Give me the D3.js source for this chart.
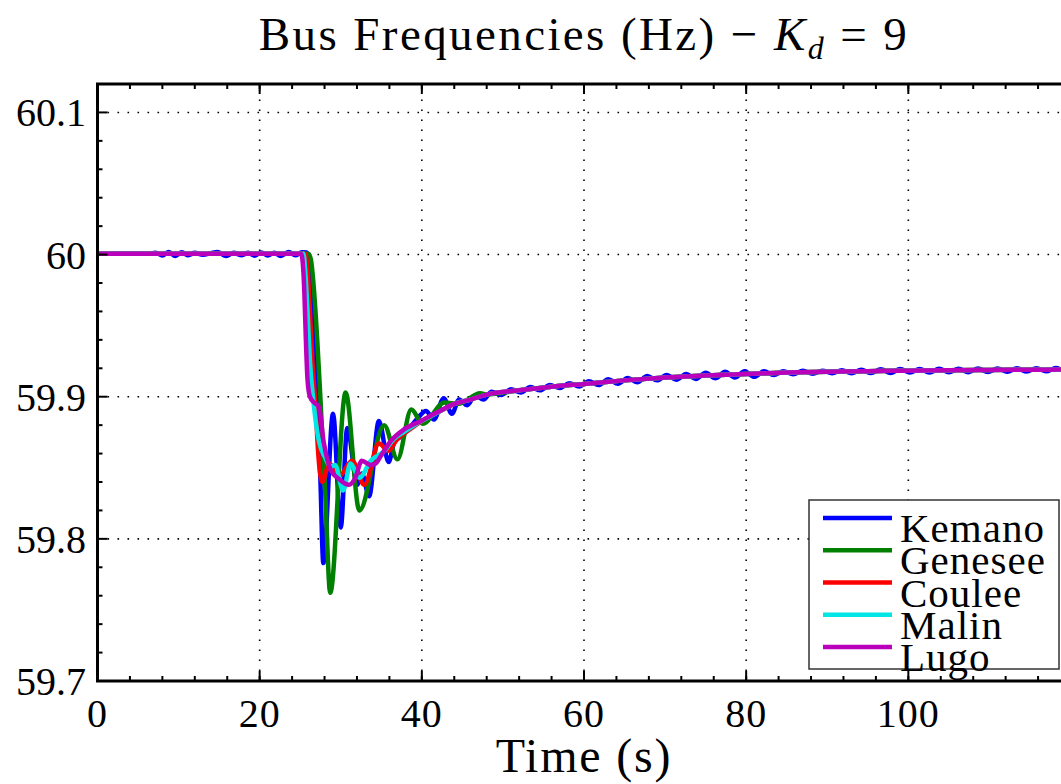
<!DOCTYPE html>
<html>
<head>
<meta charset="utf-8">
<script src="https://cdn.jsdelivr.net/npm/d3@7"></script>
<style>
  body { margin: 0; background: #fff; overflow: hidden; }
  text { font-family: "Liberation Serif", "Times New Roman", serif; fill: #000; }
</style>
</head>
<body>
<svg id="chart" width="1061" height="784"></svg>
<script>
// axis ticks
const xTicks = [0, 20, 40, 60, 80, 100, 120];
const xTickLabels = ["0", "20", "40", "60", "80", "100"];
const xMinorTicks = d3.range(0, 121, 4);
const yTicks = [59.7, 59.8, 59.9, 60, 60.1];
const yTickLabels = ["59.7", "59.8", "59.9", "60", "60.1"];
const yMinorTicks = [59.72, 59.74, 59.76, 59.78, 59.82, 59.84, 59.86, 59.88, 59.92, 59.94, 59.96, 59.98, 60.02, 60.04, 60.06, 60.08, 60.12];

const seriesNames = ["Kemano", "Genesee", "Coulee", "Malin", "Lugo"];
const seriesColors = ["#0000ff", "#008000", "#ff0000", "#00e6e6", "#bb00bb"];

// common slow recovery (s, Hz)
const settleTail = [[48, 59.9015], [52, 59.9045], [56, 59.907], [60, 59.909], [65, 59.9115], [70, 59.9135],
  [75, 59.915], [80, 59.916], [85, 59.917], [90, 59.9175], [95, 59.918], [100, 59.9183], [105, 59.9186],
  [110, 59.9188], [115, 59.919], [120, 59.9192], [121, 59.9193]];

// Kemano: ripples before the event, deep swing, ripples after
const kemano = [[0, 60.0005], [6, 60.0005], [7.2, 60.0012], [8.0, 59.9993], [8.8, 60.0018], [9.6, 59.999],
  [10.4, 60.0016], [11.2, 59.9995], [12.0, 60.0012], [13, 59.9998], [14, 60.001], [14.8, 60.0018],
  [15.8, 59.999], [16.8, 60.0012], [17.8, 59.9995], [18.6, 60.0012], [19.4, 59.9992], [20.2, 60.0015],
  [21.0, 59.9993], [21.8, 60.0012], [22.6, 59.999], [23.6, 60.0018], [24.4, 59.9995], [25.2, 60.0016],
  [25.8, 60.0014], [26.1, 59.995], [26.5, 59.96], [26.9, 59.925], [27.2, 59.893], [27.5, 59.84],
  [27.85, 59.783], [29.05, 59.888], [30.0, 59.808], [30.8, 59.878], [32.05, 59.838], [32.6, 59.846],
  [33.5, 59.830], [34.7, 59.883], [35.9, 59.854], [36.6, 59.868], [37.4, 59.872], [38.5, 59.878],
  [39.5, 59.885], [40.5, 59.890], [41.5, 59.884], [42.7, 59.899], [43.7, 59.888], [44.6, 59.898],
  [45.6, 59.894], [46.6, 59.901], [47.6, 59.898], [48.6, 59.9035], [49.8, 59.9012], [51.0, 59.9052],
  [52.2, 59.903], [53.4, 59.9068], [54.6, 59.9045], [55.8, 59.9082], [57.0, 59.9062], [58.2, 59.9095],
  [59.4, 59.9072], [60.6, 59.9108], [61.8, 59.9082], [63.0, 59.9122], [64.2, 59.9092], [65.4, 59.9132],
  [66.6, 59.9102], [67.8, 59.9145], [69.0, 59.9115], [70.2, 59.9153], [71.4, 59.912], [72.6, 59.916],
  [73.8, 59.9125], [75.0, 59.9168], [76.2, 59.913], [77.4, 59.9175], [78.6, 59.9135], [79.8, 59.918],
  [81.0, 59.914], [82.2, 59.918], [83.4, 59.9152], [84.6, 59.918], [85.8, 59.9158], [87.0, 59.9183],
  [88.2, 59.9162], [89.4, 59.9183], [90.6, 59.9165], [91.8, 59.9186], [93.0, 59.9165], [94.2, 59.919],
  [95.4, 59.9166], [96.6, 59.9194], [97.8, 59.9167], [99.0, 59.9195], [100.2, 59.917], [101.4, 59.9195],
  [102.6, 59.917], [103.8, 59.9196], [105.0, 59.9172], [106.2, 59.9197], [107.4, 59.9172], [108.6, 59.9198],
  [109.8, 59.9174], [111.0, 59.9199], [112.2, 59.9175], [113.4, 59.92], [114.6, 59.9177], [115.8, 59.9201],
  [117.0, 59.9179], [118.2, 59.9202], [119.4, 59.918], [120.6, 59.9204]];

const genesee = [[0, 60.0005], [26.0, 60.0005], [26.3, 59.997], [26.7, 59.975], [27.1, 59.94],
  [27.5, 59.898], [28.1, 59.83], [28.7, 59.762], [30.6, 59.903], [32.3, 59.820], [35.35, 59.880],
  [37.0, 59.856], [38.7, 59.891], [40.1, 59.881], [42.8, 59.896], [44.5, 59.895], [47.2, 59.9025]]
  .concat(settleTail);

const coulee = [[0, 60.0005], [25.6, 60.0005], [25.9, 59.99], [26.2, 59.96], [26.5, 59.925],
  [26.9, 59.893], [27.2, 59.862], [27.7, 59.840], [28.6, 59.853], [29.8, 59.844], [31.4, 59.855],
  [32.9, 59.838], [34.7, 59.867], [35.9, 59.862], [36.8, 59.869], [38.5, 59.877], [40.3, 59.884],
  [42, 59.889], [44, 59.895], [46, 59.898]].concat(settleTail);

const malin = [[0, 60.0005], [25.4, 60.0005], [25.6, 59.99], [25.9, 59.96], [26.2, 59.925],
  [26.7, 59.893], [27.3, 59.869], [28.0, 59.858], [28.8, 59.851], [29.3, 59.852], [30.3, 59.834],
  [31.2, 59.853], [32.3, 59.843], [33.7, 59.855], [35.4, 59.862], [36.5, 59.870], [38, 59.876],
  [40, 59.883], [42, 59.889], [44, 59.895], [46, 59.898]].concat(settleTail);

const lugo = [[0, 60.0005], [25.1, 60.0005], [25.3, 59.995], [25.5, 59.975], [25.7, 59.94],
  [25.9, 59.912], [26.2, 59.900], [26.7, 59.896], [27.3, 59.893], [27.9, 59.868], [28.8, 59.848],
  [29.8, 59.842], [31.0, 59.838], [31.8, 59.843], [32.6, 59.855], [33.7, 59.852], [34.3, 59.853],
  [34.9, 59.858], [36.2, 59.869], [37.8, 59.877], [39.9, 59.883], [41.9, 59.889], [44, 59.895],
  [46, 59.898]].concat(settleTail);

const seriesData = [kemano, genesee, coulee, malin, lugo];

const svg = d3.select("#chart");
const x = d3.scaleLinear().domain([0, 120]).range([97.5, 1070.5]);
const y = d3.scaleLinear().domain([59.7, 60.12]).range([681, 84]);

// title
const title = svg.append("text")
  .attr("x", x(60)).attr("y", 50)
  .attr("text-anchor", "middle")
  .style("font-size", "47px")
  .style("letter-spacing", "2.4px");
title.append("tspan").text("Bus Frequencies (Hz) \u2212 ");
title.append("tspan").style("font-style", "italic").text("K");
title.append("tspan").style("font-style", "italic").style("font-size", "32px")
  .attr("dy", 9).text("d");
title.append("tspan").attr("dy", -9).text(" = 9");

svg.append("defs").append("clipPath").attr("id", "plotClip")
  .append("rect").attr("x", x(0)).attr("y", y(60.12)).attr("width", x(120) - x(0)).attr("height", y(59.7) - y(60.12));

// dotted grid
const grid = svg.append("g").attr("stroke", "#000").attr("stroke-width", 1.6).attr("stroke-dasharray", "1.6,8.4");
grid.selectAll(".gx").data(xTicks.filter(d => d > 0)).join("line")
  .attr("x1", d => x(d)).attr("x2", d => x(d)).attr("y1", y(59.7)).attr("y2", y(60.12));
grid.selectAll(".gy").data(yTicks.filter(d => d > 59.7)).join("line")
  .attr("y1", d => y(d)).attr("y2", d => y(d)).attr("x1", x(0)).attr("x2", x(120));

// series
const line = d3.line().x(d => x(d[0])).y(d => y(d[1])).curve(d3.curveMonotoneX);
svg.append("g").attr("clip-path", "url(#plotClip)")
  .selectAll("path").data(seriesData).join("path")
  .attr("d", line)
  .attr("fill", "none")
  .attr("stroke", (d, i) => seriesColors[i])
  .attr("stroke-width", 4.5)
  .attr("stroke-linejoin", "round");

// axes (inward ticks, box)
const axes = svg.append("g").attr("stroke", "#000");
axes.selectAll(".xmaj").data(xTicks).join("g").each(function(d) {
  const g = d3.select(this);
  g.append("line").attr("x1", x(d)).attr("x2", x(d)).attr("y1", y(59.7)).attr("y2", y(59.7) - 10).attr("stroke-width", 2);
  g.append("line").attr("x1", x(d)).attr("x2", x(d)).attr("y1", y(60.12)).attr("y2", y(60.12) + 10).attr("stroke-width", 2);
});
axes.selectAll(".xmin").data(xMinorTicks).join("g").each(function(d) {
  const g = d3.select(this);
  g.append("line").attr("x1", x(d)).attr("x2", x(d)).attr("y1", y(59.7)).attr("y2", y(59.7) - 5).attr("stroke-width", 2);
  g.append("line").attr("x1", x(d)).attr("x2", x(d)).attr("y1", y(60.12)).attr("y2", y(60.12) + 5).attr("stroke-width", 2);
});
axes.selectAll(".ymaj").data(yTicks).join("line")
  .attr("x1", x(0)).attr("x2", x(0) + 10).attr("y1", d => y(d)).attr("y2", d => y(d)).attr("stroke-width", 2);
axes.selectAll(".ymin").data(yMinorTicks).join("line")
  .attr("x1", x(0)).attr("x2", x(0) + 5).attr("y1", d => y(d)).attr("y2", d => y(d)).attr("stroke-width", 2);
axes.append("rect")
  .attr("x", x(0)).attr("y", y(60.12)).attr("width", x(120) - x(0)).attr("height", y(59.7) - y(60.12))
  .attr("fill", "none").attr("stroke-width", 3);

// tick labels (the 120 label falls outside the picture)
svg.append("g").selectAll("text").data(xTickLabels).join("text")
  .attr("x", (d, i) => x(xTicks[i])).attr("y", 727)
  .attr("text-anchor", "middle").style("font-size", "40px").style("letter-spacing", "1px")
  .text(d => d);
svg.append("g").selectAll("text").data(yTicks).join("text")
  .attr("x", 86).attr("y", d => y(d) + 14)
  .attr("text-anchor", "end").style("font-size", "40px")
  .text((d, i) => yTickLabels[i]);

svg.append("text").attr("x", x(60)).attr("y", 772)
  .attr("text-anchor", "middle").style("font-size", "48px").style("letter-spacing", "1.8px")
  .text("Time (s)");

// legend
const legend = svg.append("g");
legend.append("rect").attr("x", 809).attr("y", 500).attr("width", 250).attr("height", 169)
  .attr("fill", "#fff").attr("stroke", "#333").attr("stroke-width", 1.5);
const legendY = d3.scalePoint().domain(seriesNames).range([518, 647]);
const item = legend.selectAll(".item").data(seriesNames).join("g");
item.append("line").attr("x1", 823).attr("x2", 892)
  .attr("y1", d => legendY(d)).attr("y2", d => legendY(d))
  .attr("stroke", (d, i) => seriesColors[i]).attr("stroke-width", 4.5);
item.append("text").attr("x", 900).attr("y", d => legendY(d) + 24)
  .style("font-size", "41px").style("letter-spacing", "1px").text(d => d);
</script>
</body>
</html>
